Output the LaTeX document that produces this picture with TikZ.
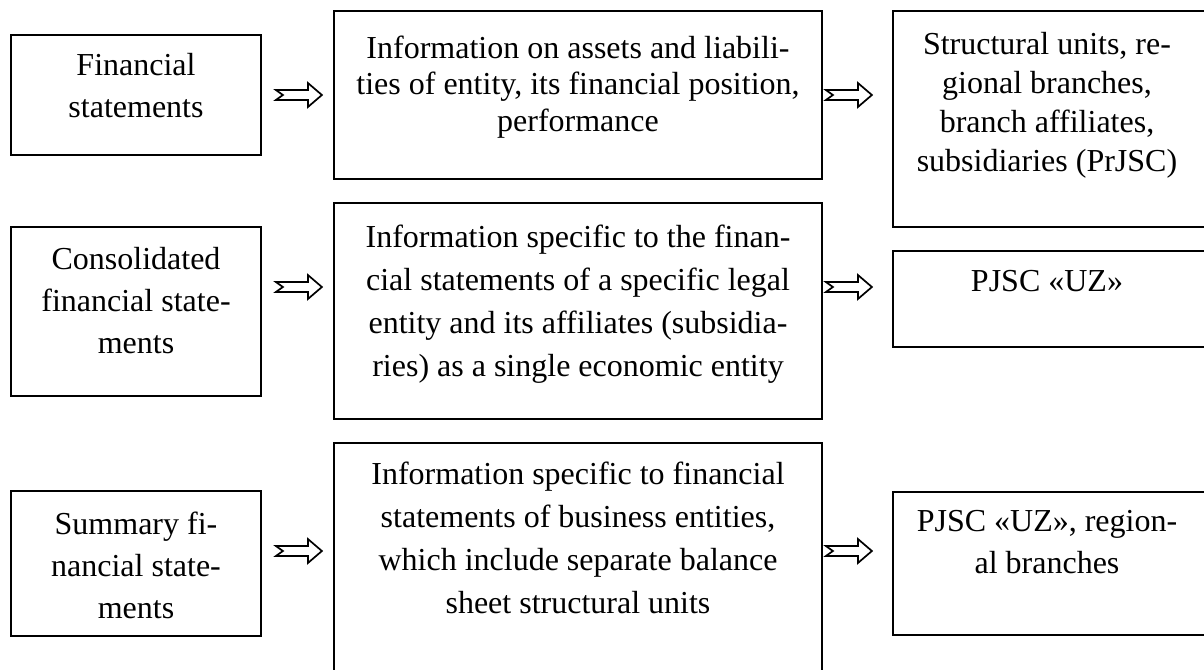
\documentclass[tikz,border=0pt]{standalone}
\usepackage{fontspec}
\setmainfont{Liberation Serif}
\begin{document}
\begin{tikzpicture}[x=1pt,y=-1pt,
  box/.style={draw, line width=1.8pt, inner sep=0pt},
  txt/.style={align=center, inner sep=0pt, anchor=base, font=\fontsize{32}{42}\selectfont},
  tight/.style={font=\fontsize{32}{36.5}\selectfont},
  mid/.style={font=\fontsize{32}{39}\selectfont},
  wide/.style={font=\fontsize{32}{43}\selectfont},
  arrowline/.style={draw, line width=1.7pt, fill=white, line join=miter},
  pics/barrow/.style={code={\draw[arrowline] (0,-5) -- (32,-5) -- (32,-12) -- (46,0) -- (32,12) -- (32,5) -- (0,5) -- (7,0) -- cycle;}}]
\useasboundingbox (0,0) rectangle (1204,669);
\clip (0,0) rectangle (1204,669);
% left column
\node[box, minimum width=250pt, minimum height=120pt] (L1) at (136,95) {};
\node[box, minimum width=250pt, minimum height=169pt] (L2) at (136,311.5) {};
\node[box, minimum width=250pt, minimum height=145pt] (L3) at (136,563.5) {};
% middle column
\node[box, minimum width=488pt, minimum height=168pt] (M1) at (578,95) {};
\node[box, minimum width=488pt, minimum height=216pt] (M2) at (578,311) {};
\node[box, minimum width=488pt, minimum height=247pt] (M3) at (578,566.5) {};
% right column
\node[box, minimum width=327pt, minimum height=216pt] (R1) at (1056.5,119) {};
\node[box, minimum width=327pt, minimum height=96pt] (R2) at (1056.5,299) {};
\node[box, minimum width=327pt, minimum height=143pt] (R3) at (1056.5,563.5) {};
% texts (anchored at the baseline of their last line)
\node[txt] (tL1) at (136,117) {Financial\\statements};
\node[txt] (tL2) at (136,353) {Consolidated\\financial state-\\ments};
\node[txt] (tL3) at (136,618) {Summary fi-\\nancial state-\\ments};
\node[txt, tight] (tM1) at (578,131) {Information on assets and liabili-\\ties of entity, its financial position,\\performance};
\node[txt, wide] (tM2) at (578,376) {Information specific to the finan-\\cial statements of a specific legal\\entity and its affiliates (subsidia-\\ries) as a single economic entity};
\node[txt, wide] (tM3) at (578,613) {Information specific to financial\\statements of business entities,\\which include separate balance\\sheet structural units};
\node[txt, mid] (tR1) at (1047,171) {Structural units, re-\\gional branches,\\branch affiliates,\\subsidiaries (PrJSC)};
\node[txt] (tR2) at (1047,291) {PJSC «UZ»};
\node[txt] (tR3) at (1047,573) {PJSC «UZ», region-\\al branches};
% arrow rows
\coordinate (row1) at (0,95);
\coordinate (row2) at (0,287);
\coordinate (row3) at (0,551);
\pic at ([xshift=14pt]L1.east |- row1) {barrow};
\pic at ([xshift=3pt]M1.east |- row1) {barrow};
\pic at ([xshift=14pt]L2.east |- row2) {barrow};
\pic at ([xshift=3pt]M2.east |- row2) {barrow};
\pic at ([xshift=14pt]L3.east |- row3) {barrow};
\pic at ([xshift=3pt]M3.east |- row3) {barrow};
\end{tikzpicture}
\end{document}
